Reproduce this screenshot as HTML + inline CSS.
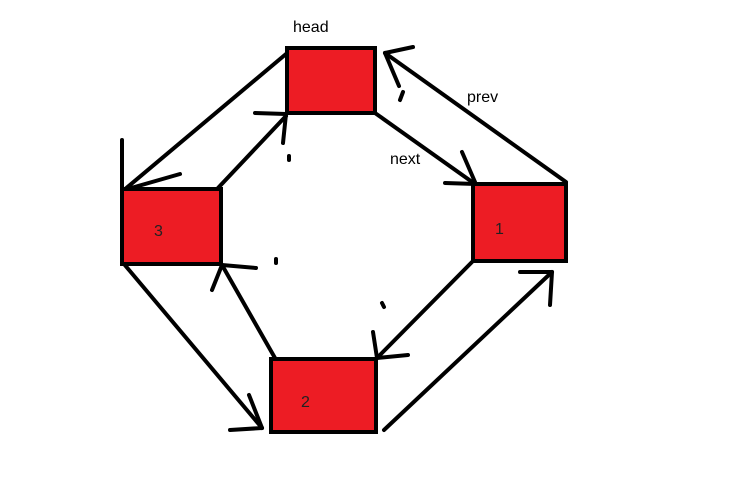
<!DOCTYPE html>
<html><head><meta charset="utf-8"><style>
html,body{margin:0;padding:0;background:#fff;}
svg{display:block;}
text{font-family:"Liberation Sans",sans-serif;}
</style></head><body>
<svg width="739" height="504" viewBox="0 0 739 504">
<g stroke="#000" stroke-width="4" stroke-linecap="round" fill="none">
  <g>
    <line x1="375" y1="113" x2="475" y2="184"/><line x1="462" y1="152" x2="475" y2="182"/><line x1="445" y1="183" x2="476" y2="184"/>
  </g>
  <g>
    <line x1="566" y1="182" x2="385" y2="53"/><line x1="385" y1="53" x2="413" y2="47"/><line x1="385" y1="53" x2="399" y2="86"/><line x1="403" y1="92" x2="400" y2="100"/>
  </g>
  <g>
    <line x1="286" y1="54" x2="124" y2="190"/><line x1="122" y1="140" x2="122" y2="192"/><line x1="124" y1="190" x2="180" y2="174"/>
  </g>
  <g>
    <line x1="218" y1="188" x2="286" y2="116"/><line x1="255" y1="113" x2="286" y2="114"/><line x1="286" y1="114" x2="283" y2="143"/>
  </g>
  <g>
    <line x1="124" y1="264" x2="262" y2="428"/><line x1="249" y1="395" x2="262" y2="428"/><line x1="230" y1="430" x2="262" y2="428"/>
  </g>
  <g>
    <line x1="275" y1="358" x2="222" y2="265"/><line x1="222" y1="265" x2="256" y2="268"/><line x1="222" y1="265" x2="212" y2="290"/>
  </g>
  <g>
    <line x1="472" y1="262" x2="377" y2="358"/><line x1="377" y1="358" x2="373" y2="332"/><line x1="377" y1="358" x2="408" y2="355"/>
  </g>
  <g>
    <line x1="384" y1="430" x2="552" y2="272"/><line x1="520" y1="272" x2="552" y2="272"/><line x1="552" y1="272" x2="550" y2="305"/>
  </g>
  <line x1="289" y1="156" x2="289" y2="160"/><line x1="276" y1="259" x2="276" y2="263"/><line x1="382" y1="303" x2="384" y2="307"/>
</g>
<g fill="#ed1c24" stroke="#000" stroke-width="4">
  <rect x="287" y="48" width="88" height="65"/>
  <rect x="473" y="184" width="93" height="77"/>
  <rect x="122" y="189" width="99" height="75"/>
  <rect x="271" y="359" width="105" height="73"/>
</g>
<g font-size="16" fill="#000">
  <text x="293" y="32">head</text>
  <text x="467" y="102">prev</text>
  <text x="390" y="164">next</text>
</g>
<g font-size="16" fill="#222">
  <text x="154" y="236">3</text>
  <text x="495" y="234">1</text>
  <text x="301" y="407">2</text>
</g>
</svg>
</body></html>
